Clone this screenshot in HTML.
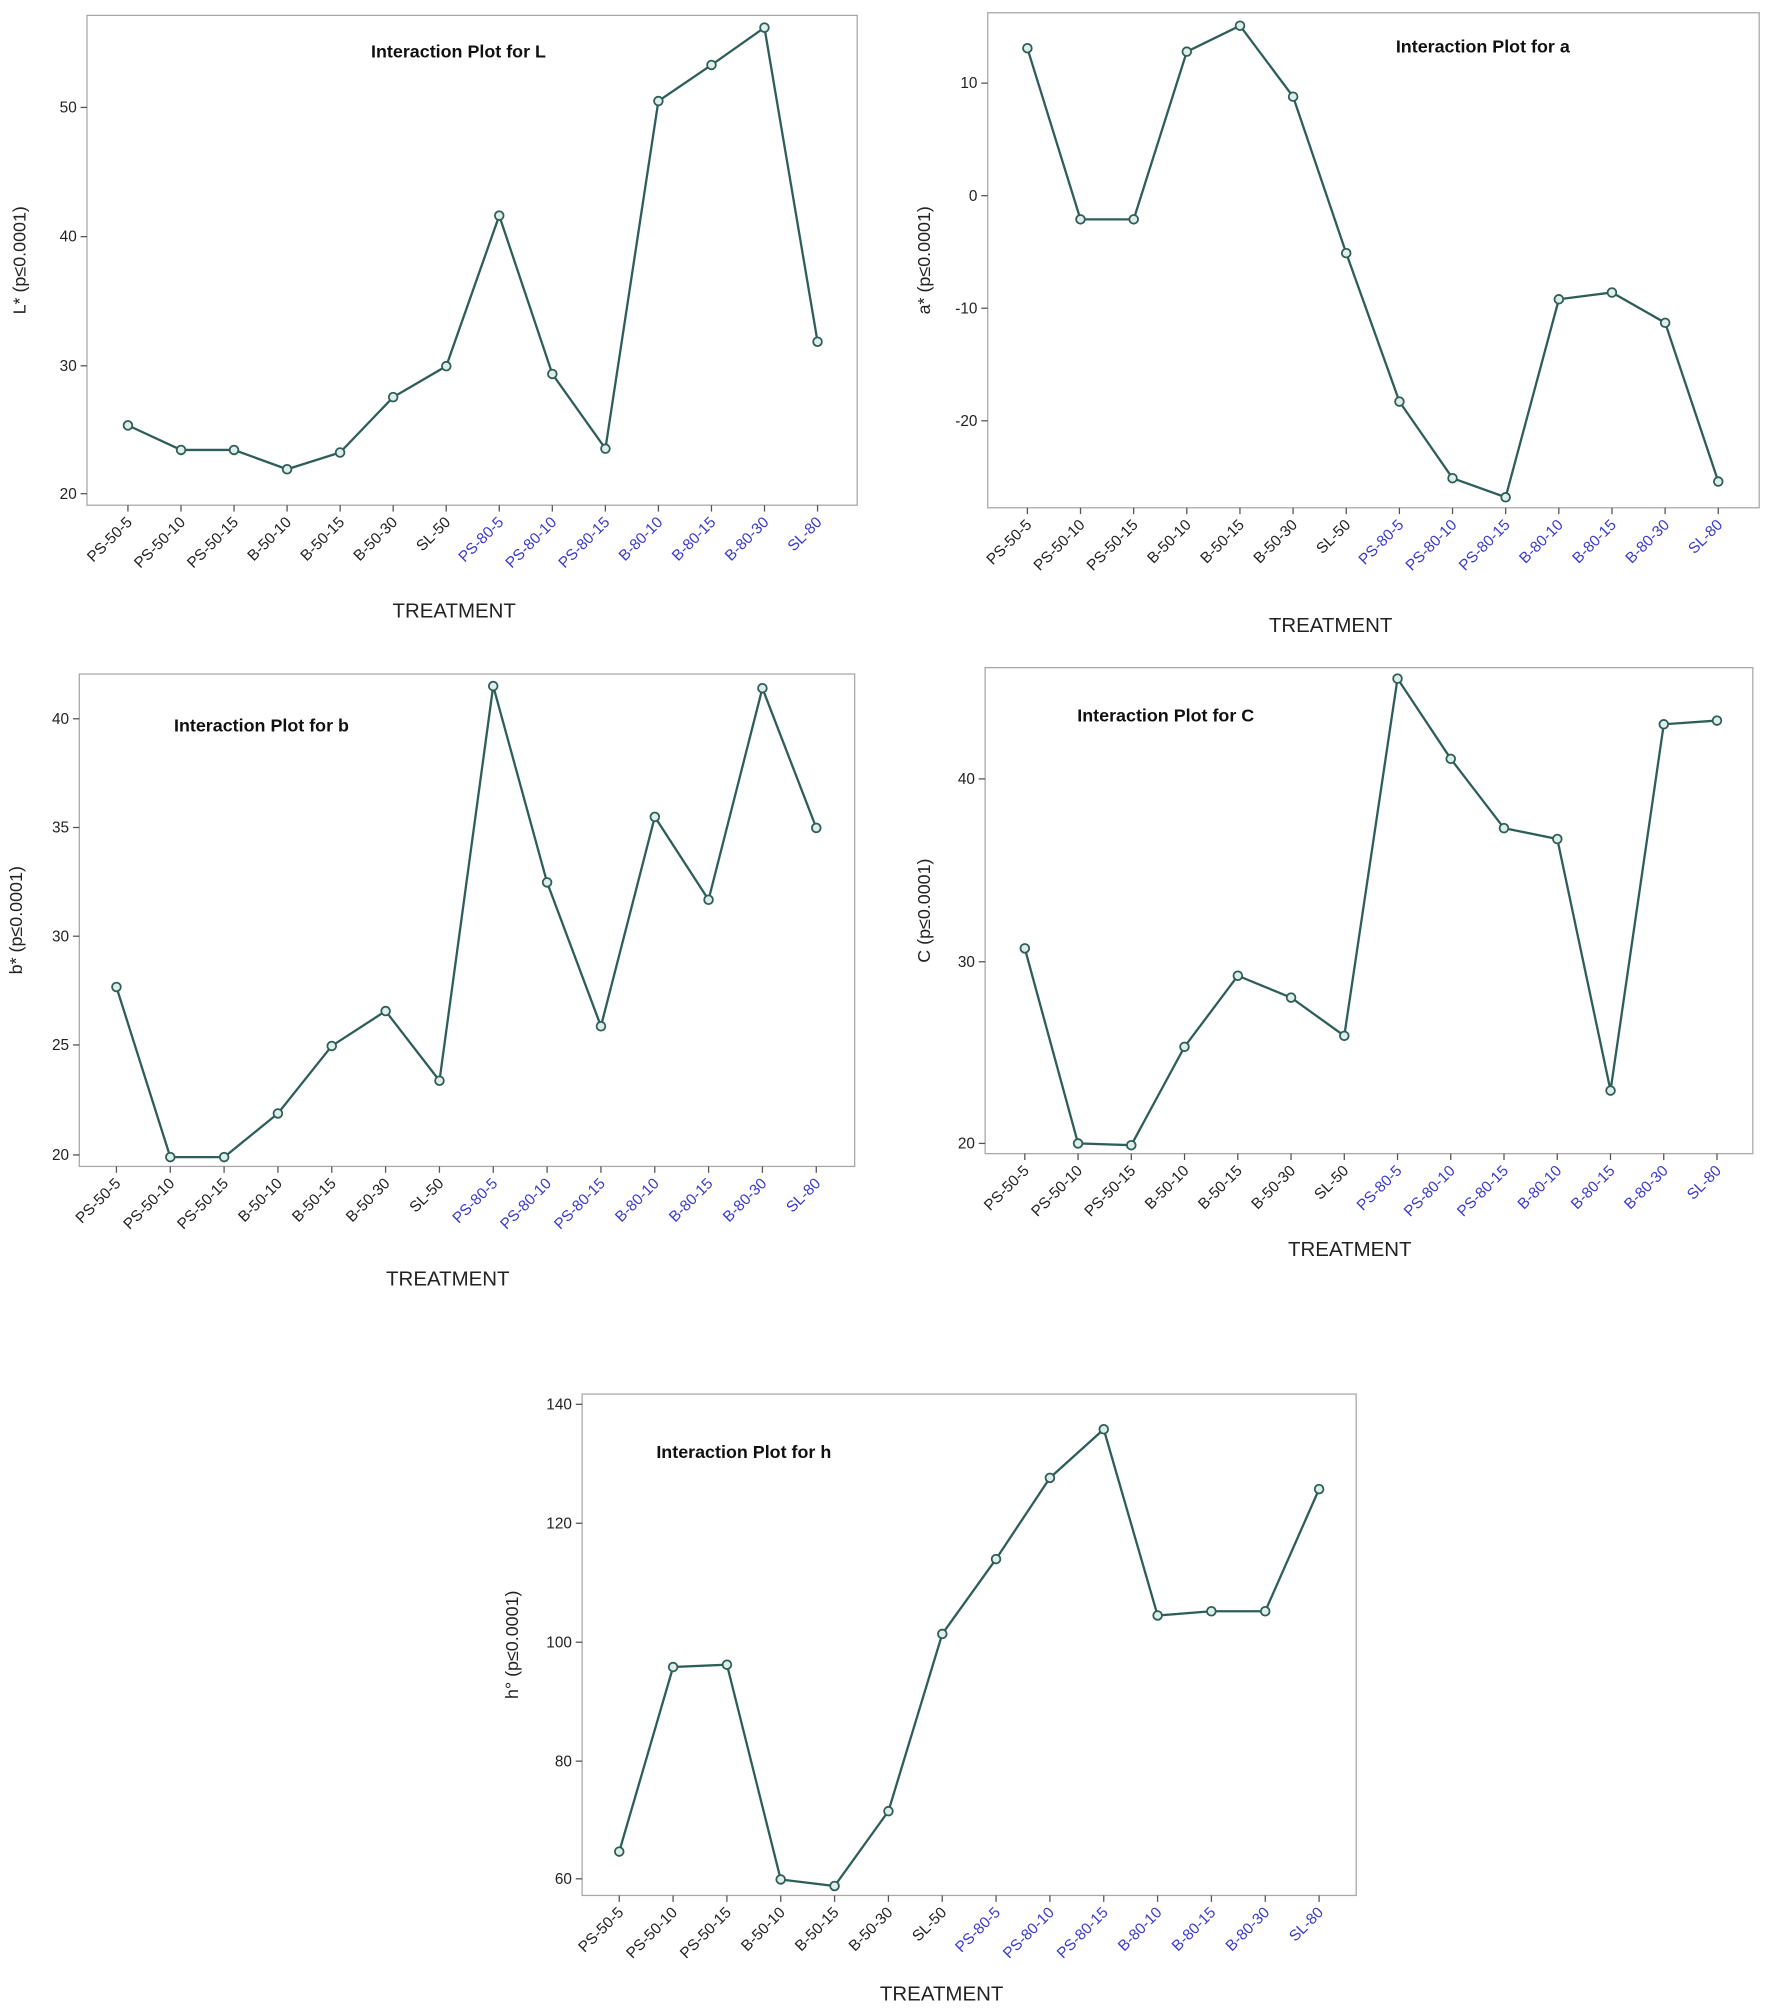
<!DOCTYPE html>
<html><head><meta charset="utf-8"><style>
html,body{margin:0;padding:0;background:#fff;}
svg{display:block;}
text{font-family:"Liberation Sans",Arial,sans-serif;}
</style></head><body>
<svg id="s" width="1772" height="2008" viewBox="0 0 1385 1570" preserveAspectRatio="none" xmlns="http://www.w3.org/2000/svg"></svg>
<script>
var labels=["PS-50-5","PS-50-10","PS-50-15","B-50-10","B-50-15","B-50-30","SL-50","PS-80-5","PS-80-10","PS-80-15","B-80-10","B-80-15","B-80-30","SL-80"];
var panels=[
{box:[68,12,670,395],x0:100,x1:639,ticks:[[50,84],[40,185],[30,286],[20,386]],
 vals:[25.3,23.4,23.4,21.9,23.2,27.5,29.9,41.6,29.3,23.5,50.5,53.3,56.2,31.8],
 title:"Interaction Plot for L",tx:290,ty:45,yl:"L* (p\u22640.0001)",ylx:20,tr:[355,483]},
{box:[772,10,1375,397],x0:803,x1:1343,ticks:[[10,65],[0,153],[-10,241],[-20,329]],
 vals:[13.1,-2.1,-2.1,12.8,15.1,8.8,-5.1,-18.3,-25.1,-26.8,-9.2,-8.6,-11.3,-25.4],
 title:"Interaction Plot for a",tx:1091,ty:41,yl:"a* (p\u22640.0001)",ylx:727,tr:[1040,494]},
{box:[62,527,668,912],x0:91,x1:638,ticks:[[40,562],[35,647],[30,732],[25,817],[20,903]],
 vals:[27.7,19.9,19.9,21.9,25.0,26.6,23.4,41.5,32.5,25.9,35.5,31.7,41.4,35.0],
 title:"Interaction Plot for b",tx:136,ty:572,yl:"b* (p\u22640.0001)",ylx:17,tr:[350,1005]},
{box:[770,522,1370,902],x0:801,x1:1342,ticks:[[40,609],[30,752],[20,894]],
 vals:[30.7,20.0,19.9,25.3,29.2,28.0,25.9,45.5,41.1,37.3,36.7,22.9,43.0,43.2],
 title:"Interaction Plot for C",tx:842,ty:564,yl:"C (p\u22640.0001)",ylx:727,tr:[1055,982]},
{box:[455,1090,1060,1482],x0:484,x1:1031,ticks:[[140,1098],[120,1191],[100,1284],[80,1377],[60,1469]],
 vals:[64.6,95.7,96.1,59.9,58.8,71.4,101.3,113.9,127.6,135.8,104.4,105.1,105.1,125.7],
 title:"Interaction Plot for h",tx:513,ty:1140,yl:"h\u00b0 (p\u22640.0001)",ylx:405,tr:[736,1564]}
];
var h='';
panels.forEach(function(p){
 var b=p.box;
 h+='<rect x="'+b[0]+'" y="'+b[1]+'" width="'+(b[2]-b[0])+'" height="'+(b[3]-b[1])+'" fill="#fff" stroke="#a8a8a8" stroke-width="1"/>';
 var t=p.ticks, v0=t[0][0],y0=t[0][1],v1=t[t.length-1][0],y1=t[t.length-1][1];
 function Y(v){return y0+(v-v0)*(y1-y0)/(v1-v0);}
 t.forEach(function(k){
  h+='<line x1="'+(b[0]-5)+'" y1="'+k[1]+'" x2="'+b[0]+'" y2="'+k[1]+'" stroke="#555"/>';
  h+='<text x="'+(b[0]-8)+'" y="'+(k[1]+4)+'" font-size="12" text-anchor="end" fill="#222">'+k[0]+'</text>';
 });
 var dx=(p.x1-p.x0)/13, pts=[];
 for(var i=0;i<14;i++){
  var x=p.x0+i*dx;
  pts.push(x.toFixed(1)+','+Y(p.vals[i]).toFixed(1));
  h+='<line x1="'+x+'" y1="'+b[3]+'" x2="'+x+'" y2="'+(b[3]+5)+'" stroke="#555"/>';
  var c=i<7?'#222':'#3a3acc';
  h+='<text transform="translate('+(x+4)+','+(b[3]+14)+') rotate(-45)" font-size="12" text-anchor="end" fill="'+c+'">'+labels[i]+'</text>';
 }
 h+='<polyline points="'+pts.join(' ')+'" fill="none" stroke="#2e5e58" stroke-width="1.8"/>';
 pts.forEach(function(q){var a=q.split(',');h+='<circle cx="'+a[0]+'" cy="'+a[1]+'" r="3.4" fill="#dfeee9" stroke="#2e5e58" stroke-width="1.4"/>';});
 h+='<text x="'+p.tx+'" y="'+p.ty+'" font-size="14" font-weight="bold" fill="#111">'+p.title+'</text>';
 var cy=(b[1]+b[3])/2;
 h+='<text transform="translate('+p.ylx+','+cy+') rotate(-90)" font-size="14" text-anchor="middle" fill="#222">'+p.yl+'</text>';
 h+='<text x="'+p.tr[0]+'" y="'+p.tr[1]+'" font-size="16" text-anchor="middle" fill="#222">TREATMENT</text>';
});
document.getElementById('s').innerHTML=h;
</script>
</body></html>
